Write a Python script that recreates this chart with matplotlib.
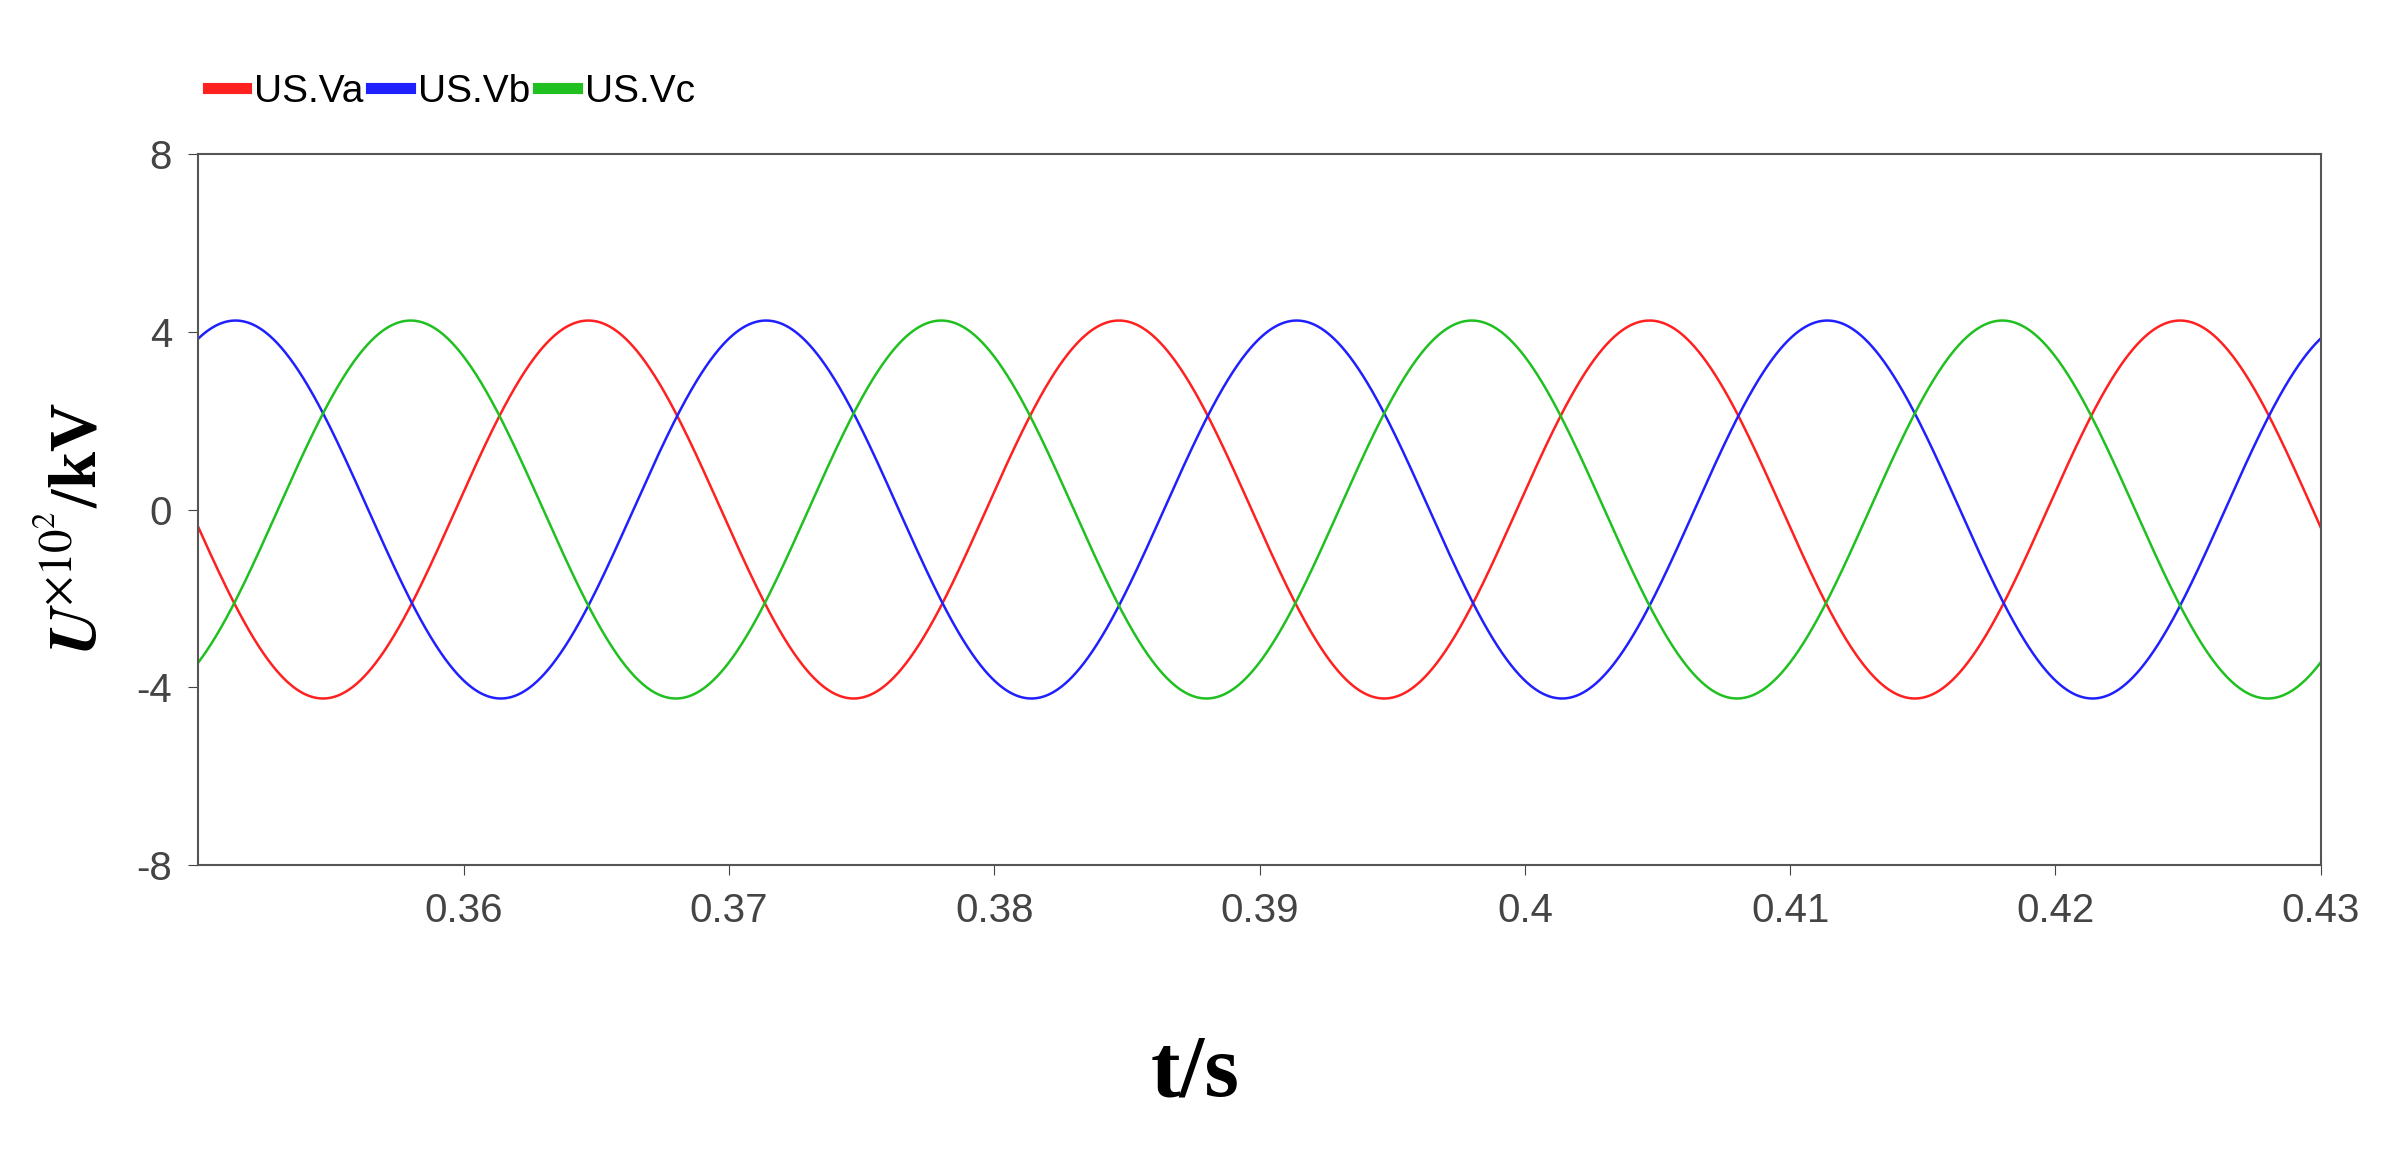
import numpy as np
import matplotlib.pyplot as plt

# three-phase voltage: peak value (x100 kV), frequency, time of first peak
series_names = ['US.Va', 'US.Vb', 'US.Vc']
series_colors = ['#ff2020', '#2020ff', '#20c020']
amplitude = [4.25, 4.25, 4.25]
freq_hz = [50.0, 50.0, 50.0]
peak_time = [0.3647, 0.3714, 0.3580]

t = np.linspace(0.35, 0.43, 4000)

fig = plt.figure(figsize=(23.9, 11.74), dpi=100)
ax = fig.add_axes([0.083, 0.263, 0.888, 0.606])

for name, c, a, f, tp in zip(series_names, series_colors, amplitude, freq_hz, peak_time):
    ax.plot(t, a * np.cos(2 * np.pi * f * (t - tp)), color=c, lw=1.8, label=name)

ax.set_xlim(0.35, 0.43)
ax.set_ylim(-8, 8)
ax.set_yticks([-8, -4, 0, 4, 8])
ax.set_yticklabels(['-8', '-4', '0', '4', '8'])
ax.set_xticks([0.36, 0.37, 0.38, 0.39, 0.40, 0.41, 0.42, 0.43])
ax.set_xticklabels(['0.36', '0.37', '0.38', '0.39', '0.4', '0.41', '0.42', '0.43'])
ax.tick_params(labelsize=29, colors='#444444', length=7, pad=12)
for lab in ax.get_xticklabels() + ax.get_yticklabels():
    lab.set_family('Liberation Sans')
for s in ax.spines.values():
    s.set_color('#555555')
    s.set_linewidth(1.5)

ax.legend(loc='lower left', bbox_to_anchor=(-0.003, 1.04), ncol=3, frameon=False,
          handlelength=1.0, handletextpad=0.2, columnspacing=0.2,
          borderaxespad=0, prop={'family': 'Liberation Sans', 'size': 28})
for h in ax.get_legend().get_lines():
    h.set_linewidth(8)

fig.text(0.032, 0.55, r'$\boldsymbol{U}^{\times 10^2}$/kV', rotation=90, ha='center', va='center',
         fontsize=48, fontweight='bold', family='Liberation Serif', math_fontfamily='stix')
fig.text(0.5, 0.085, 't/s', ha='center', va='center', fontsize=64,
         fontweight='bold', family='Liberation Serif')

fig.savefig('out.png', dpi=100)
